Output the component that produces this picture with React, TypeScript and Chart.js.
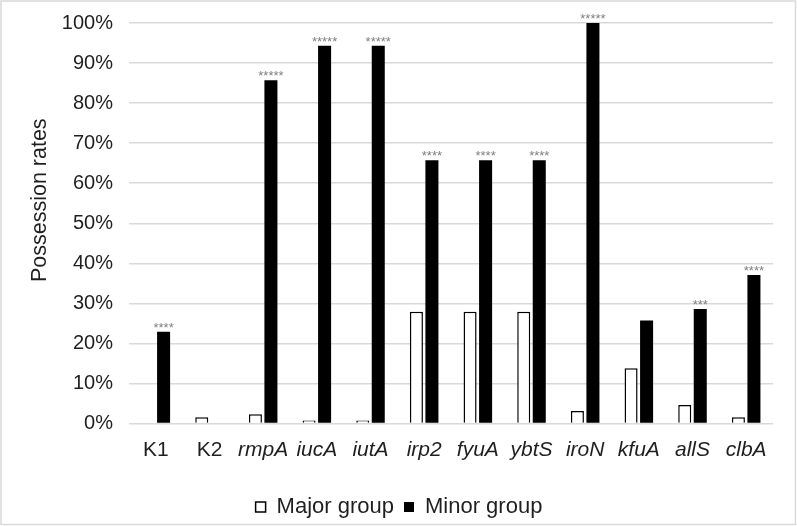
import React, { useEffect, useRef } from "react";
import { Chart, registerables } from "chart.js";

Chart.register(...registerables);

const categories = ["K1", "K2", "rmpA", "iucA", "iutA", "irp2", "fyuA", "ybtS", "iroN", "kfuA", "allS", "clbA"];
const italicLabels = [false, false, true, true, true, true, true, true, true, true, true, true];
const majorGroup = [0, 1.55, 2.33, 0.78, 0.78, 27.9, 27.9, 27.9, 3.1, 13.8, 4.65, 1.55];
const minorGroup = [22.9, 0, 85.7, 94.3, 94.3, 65.7, 65.7, 65.7, 100, 25.7, 28.6, 37.1];
const significance = ["****", "", "*****", "*****", "*****", "****", "****", "****", "*****", "", "***", "****"];
const yTitle = "Possession rates";
const yTickStep = 10;
const yMax = 100;

const FONT = "'Liberation Sans', Arial, sans-serif";
const TEXT = "#1f1f1f";

const asteriskPlugin = {
  id: "asterisks",
  afterDatasetsDraw(chart: any) {
    const meta = chart.getDatasetMeta(1);
    const ctx = chart.ctx;
    ctx.save();
    ctx.font = `13px ${FONT}`;
    ctx.fillStyle = "#7f7f7f";
    ctx.textAlign = "center";
    ctx.textBaseline = "alphabetic";
    meta.data.forEach((bar: any, i: number) => {
      const s = significance[i];
      if (!s) return;
      ctx.fillText(s, bar.x, bar.y);
    });
    ctx.restore();
  },
};

const yTitlePlugin = {
  id: "yTitle",
  afterDraw(chart: any) {
    const ctx = chart.ctx;
    const area = chart.chartArea;
    ctx.save();
    ctx.translate(40, (area.top + area.bottom) / 2 - 23);
    ctx.rotate(-Math.PI / 2);
    ctx.font = `21.5px ${FONT}`;
    ctx.fillStyle = TEXT;
    ctx.textAlign = "center";
    ctx.textBaseline = "middle";
    ctx.fillText(yTitle, 0, 0);
    ctx.restore();
  },
};

const borderPlugin = {
  id: "outerBorder",
  beforeDraw(chart: any) {
    const ctx = chart.ctx;
    ctx.save();
    ctx.fillStyle = "#ffffff";
    ctx.fillRect(0, 0, chart.width, chart.height);
    ctx.strokeStyle = "#d9d9d9";
    ctx.lineWidth = 1.5;
    ctx.strokeRect(1, 1, chart.width - 2.5, chart.height - 2.5);
    ctx.restore();
  },
};

export default function App() {
  const ref = useRef<HTMLCanvasElement>(null);
  useEffect(() => {
    if (!ref.current) return;
    const chart = new Chart(ref.current, {
      type: "bar",
      data: {
        labels: categories,
        datasets: [
          {
            label: "Major group",
            data: majorGroup,
            backgroundColor: "#ffffff",
            borderColor: "#000000",
            borderWidth: 1.5,
            categoryPercentage: 0.578,
            barPercentage: 0.84,
          },
          {
            label: "Minor group",
            data: minorGroup,
            backgroundColor: "#000000",
            borderColor: "#000000",
            borderWidth: 0,
            categoryPercentage: 0.578,
            barPercentage: 0.84,
          },
        ],
      },
      options: {
        responsive: false,
        animation: false,
        layout: { padding: { left: 25, top: 23, right: 24, bottom: -2 } },
        plugins: {
          legend: {
            position: "bottom",
            labels: {
              font: { family: FONT, size: 22 },
              color: TEXT,
              boxWidth: 10,
              boxHeight: 10,
              padding: 10,
            },
          },
          tooltip: { enabled: false },
        },
        scales: {
          x: {
            grid: { display: false },
            border: { display: false },
            ticks: {
              color: TEXT,
              padding: 6,
              autoSkip: false,
              maxRotation: 0,
              minRotation: 0,
              font: (c: any) => ({
                family: FONT,
                size: 21,
                style: italicLabels[c.index] ? "italic" : "normal",
              }),
            },
            afterFit: (s: any) => {
              s.height = 62.5;
            },
          },
          y: {
            min: 0,
            max: yMax,
            grid: { color: "#d9d9d9", lineWidth: 1.5, drawTicks: false },
            border: { display: false },
            ticks: {
              stepSize: yTickStep,
              padding: 16,
              color: TEXT,
              font: { family: FONT, size: 20, lineHeight: 0.5 },
              callback: (v: any) => v + "%",
            },
            title: { display: false },
            afterFit: (s: any) => {
              s.width = 104;
            },
          },
        },
      },
      plugins: [borderPlugin, asteriskPlugin, yTitlePlugin],
    });
    return () => chart.destroy();
  }, []);
  return (
    <div style={{ position: "absolute", left: 0, top: 0, width: 797, height: 526 }}>
      <canvas ref={ref} width={797} height={526} />
    </div>
  );
}
